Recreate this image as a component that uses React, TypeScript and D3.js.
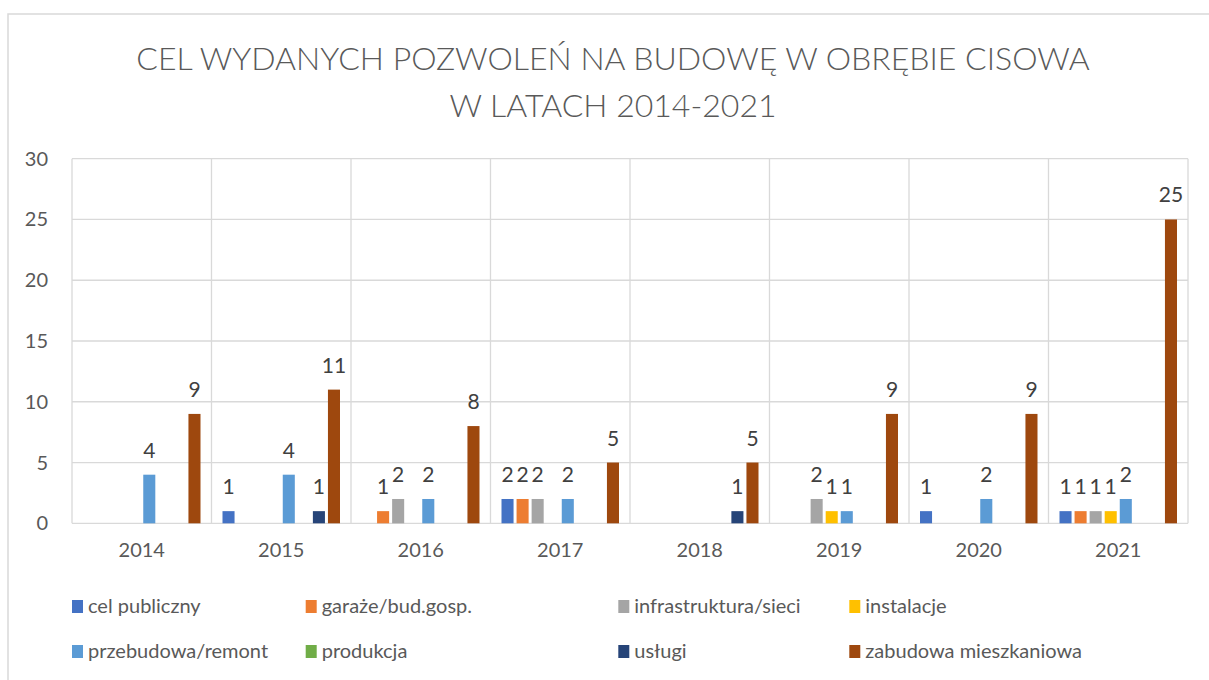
import React from "react";
import * as d3 from "d3";

const years = ["2014", "2015", "2016", "2017", "2018", "2019", "2020", "2021"];
const seriesNames = [
  "cel publiczny",
  "garaże/bud.gosp.",
  "infrastruktura/sieci",
  "instalacje",
  "przebudowa/remont",
  "produkcja",
  "usługi",
  "zabudowa mieszkaniowa",
];
const celPubliczny = [0, 1, 0, 2, 0, 0, 1, 1];
const garaze = [0, 0, 1, 2, 0, 0, 0, 1];
const infrastruktura = [0, 0, 2, 2, 0, 2, 0, 1];
const instalacje = [0, 0, 0, 0, 0, 1, 0, 1];
const przebudowa = [4, 4, 2, 2, 0, 1, 2, 2];
const produkcja = [0, 0, 0, 0, 0, 0, 0, 0];
const uslugi = [0, 1, 0, 0, 1, 0, 0, 0];
const zabudowa = [9, 11, 8, 5, 5, 9, 9, 25];
const seriesValues = [celPubliczny, garaze, infrastruktura, instalacje, przebudowa, produkcja, uslugi, zabudowa];
const colors = ["#4472C4", "#ED7D31", "#A5A5A5", "#FFC000", "#5B9BD5", "#70AD47", "#264478", "#9E480E"];
const yTicks = [0, 5, 10, 15, 20, 25, 30];
const titleLines = ["CEL WYDANYCH POZWOLEŃ NA BUDOWĘ W OBRĘBIE CISOWA", "W LATACH 2014-2021"];

const W = 1209;
const H = 680;
const left = 72;
const right = 1188;
const top = 158.7;
const bottom = 523.3;
const FONT = "Lato, 'Open Sans', sans-serif";

export default function App() {
  const x0 = d3.scaleBand().domain(years).range([left, right]).padding(0);
  const bw = x0.bandwidth();
  const gap = 11;
  const x1 = d3.scaleBand().domain(seriesNames).range([gap, bw - gap]).paddingInner(0.2).paddingOuter(0);
  const y = d3.scaleLinear().domain([0, 30]).range([bottom, top]);

  const legendX = [72, 305.7, 618.3, 849.3];
  const legendY = [613, 658];

  return (
    <svg width={W} height={H} style={{ position: "absolute", left: 0, top: 0, background: "#fff" }}>
      <rect x={8} y={14} width={1210} height={700} fill="#fff" stroke="#D9D9D9" strokeWidth={1.5} />
      <g fontFamily={FONT} fill="#595959">
        {titleLines.map((t, i) => (
          <text key={i} x={613} y={70 + i * 47} textAnchor="middle" fontSize={32} fontWeight={300}>
            {t}
          </text>
        ))}
      </g>
      {/* horizontal gridlines */}
      {yTicks.map((t) => (
        <line key={"h" + t} x1={left} x2={right} y1={y(t)} y2={y(t)} stroke="#D9D9D9" strokeWidth={1.3} />
      ))}
      {/* vertical gridlines */}
      {d3.range(years.length + 1).map((i) => {
        const xx = left + i * bw;
        return <line key={"v" + i} x1={xx} x2={xx} y1={top} y2={bottom} stroke="#D9D9D9" strokeWidth={1.3} />;
      })}
      {/* axis tick labels */}
      <g fontFamily={FONT} fill="#595959" fontSize={20}>
        {yTicks.map((t) => (
          <text key={"yt" + t} x={48} y={y(t)} dy="0.35em" textAnchor="end">
            {t}
          </text>
        ))}
        {years.map((yr) => (
          <text key={"xt" + yr} x={(x0(yr) as number) + bw / 2} y={557} textAnchor="middle">
            {yr}
          </text>
        ))}
      </g>
      {/* bars */}
      {seriesValues.map((vals, si) => (
        <g key={"s" + si} fill={colors[si]}>
          {vals.map((v, yi) =>
            v > 0 ? (
              <rect
                key={yi}
                x={(x0(years[yi]) as number) + (x1(seriesNames[si]) as number)}
                y={y(v)}
                width={x1.bandwidth()}
                height={bottom - y(v)}
              />
            ) : null
          )}
        </g>
      ))}
      {/* data labels */}
      <g fontFamily={FONT} fill="#404040" fontSize={21} textAnchor="middle">
        {seriesValues.map((vals, si) =>
          vals.map((v, yi) =>
            v > 0 ? (
              <text
                key={si + "-" + yi}
                x={(x0(years[yi]) as number) + (x1(seriesNames[si]) as number) + x1.bandwidth() / 2}
                y={y(v) - 17}
              >
                {v}
              </text>
            ) : null
          )
        )}
      </g>
      {/* legend */}
      <g fontFamily={FONT} fill="#595959" fontSize={20}>
        {seriesNames.map((name, i) => {
          const col = i % 4;
          const row = Math.floor(i / 4);
          const lx = legendX[col];
          const ly = legendY[row];
          return (
            <g key={name}>
              <rect x={lx} y={ly - 13} width={11} height={13} fill={colors[i]} />
              <text x={lx + 16} y={ly}>
                {name}
              </text>
            </g>
          );
        })}
      </g>
    </svg>
  );
}
